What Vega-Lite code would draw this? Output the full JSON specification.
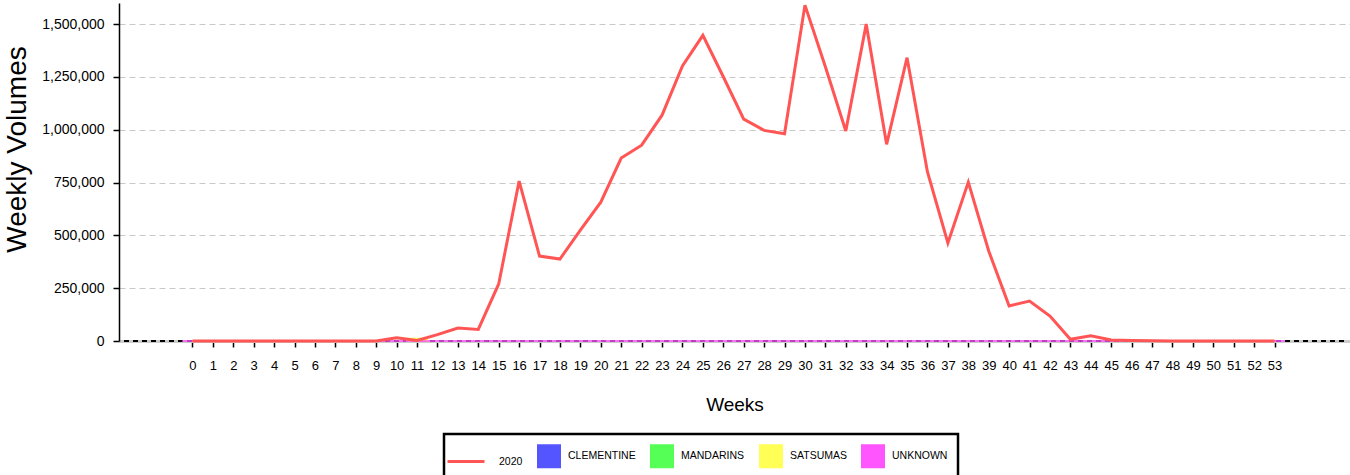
{
  "$schema": "https://vega.github.io/schema/vega-lite/v6.json",
  "width": 1231,
  "height": 338,
  "autosize": {"type": "none"},
  "padding": {"left": 119, "top": 3, "right": 0, "bottom": 134},
  "background": "white",
  "config": {
    "font": "Liberation Sans",
    "view": {"stroke": null},
    "axis": {"labelFont": "Liberation Sans", "titleFont": "Liberation Sans", "labelColor": "#000", "titleColor": "#000", "titleFontWeight": "normal"}
  },
  "datasets": {
    "main": [
      {"week": 0, "value": 0}, {"week": 1, "value": 0}, {"week": 2, "value": 0}, {"week": 3, "value": 0},
      {"week": 4, "value": 0}, {"week": 5, "value": 0}, {"week": 6, "value": 0}, {"week": 7, "value": 0},
      {"week": 8, "value": 0}, {"week": 9, "value": 0}, {"week": 10, "value": 15000}, {"week": 11, "value": 3000},
      {"week": 12, "value": 30000}, {"week": 13, "value": 61000}, {"week": 14, "value": 55000}, {"week": 15, "value": 270000},
      {"week": 16, "value": 757000}, {"week": 17, "value": 402000}, {"week": 18, "value": 388000}, {"week": 19, "value": 525000},
      {"week": 20, "value": 657000}, {"week": 21, "value": 866000}, {"week": 22, "value": 927000}, {"week": 23, "value": 1069000},
      {"week": 24, "value": 1302000}, {"week": 25, "value": 1447000}, {"week": 26, "value": 1251000}, {"week": 27, "value": 1050000},
      {"week": 28, "value": 997000}, {"week": 29, "value": 981000}, {"week": 30, "value": 1590000}, {"week": 31, "value": 1298000},
      {"week": 32, "value": 994000}, {"week": 33, "value": 1500000}, {"week": 34, "value": 931000}, {"week": 35, "value": 1341000},
      {"week": 36, "value": 800000}, {"week": 37, "value": 464000}, {"week": 38, "value": 752000}, {"week": 39, "value": 426000},
      {"week": 40, "value": 166000}, {"week": 41, "value": 189000}, {"week": 42, "value": 118000}, {"week": 43, "value": 8000},
      {"week": 44, "value": 25000}, {"week": 45, "value": 5000}, {"week": 46, "value": 2000}, {"week": 47, "value": 1000},
      {"week": 48, "value": 500}, {"week": 49, "value": 0}, {"week": 50, "value": 0}, {"week": 51, "value": 0},
      {"week": 52, "value": 0}, {"week": 53, "value": 0}
    ],
    "varieties": [
      {"week": 11, "series": "SATSUMAS", "value": 12000},
      {"week": 0, "series": "UNKNOWN", "value": 0}, {"week": 1, "series": "UNKNOWN", "value": 0}, {"week": 2, "series": "UNKNOWN", "value": 0},
      {"week": 3, "series": "UNKNOWN", "value": 0}, {"week": 4, "series": "UNKNOWN", "value": 0}, {"week": 5, "series": "UNKNOWN", "value": 0},
      {"week": 6, "series": "UNKNOWN", "value": 0}, {"week": 7, "series": "UNKNOWN", "value": 0}, {"week": 8, "series": "UNKNOWN", "value": 0},
      {"week": 9, "series": "UNKNOWN", "value": 0}, {"week": 10, "series": "UNKNOWN", "value": 0}, {"week": 11, "series": "UNKNOWN", "value": 0},
      {"week": 12, "series": "UNKNOWN", "value": 0}, {"week": 13, "series": "UNKNOWN", "value": 0}, {"week": 14, "series": "UNKNOWN", "value": 0},
      {"week": 15, "series": "UNKNOWN", "value": 0}, {"week": 16, "series": "UNKNOWN", "value": 0}, {"week": 17, "series": "UNKNOWN", "value": 0},
      {"week": 18, "series": "UNKNOWN", "value": 0}, {"week": 19, "series": "UNKNOWN", "value": 0}, {"week": 20, "series": "UNKNOWN", "value": 0},
      {"week": 21, "series": "UNKNOWN", "value": 0}, {"week": 22, "series": "UNKNOWN", "value": 0}, {"week": 23, "series": "UNKNOWN", "value": 0},
      {"week": 24, "series": "UNKNOWN", "value": 0}, {"week": 25, "series": "UNKNOWN", "value": 0}, {"week": 26, "series": "UNKNOWN", "value": 0},
      {"week": 27, "series": "UNKNOWN", "value": 0}, {"week": 28, "series": "UNKNOWN", "value": 0}, {"week": 29, "series": "UNKNOWN", "value": 0},
      {"week": 30, "series": "UNKNOWN", "value": 0}, {"week": 31, "series": "UNKNOWN", "value": 0}, {"week": 32, "series": "UNKNOWN", "value": 0},
      {"week": 33, "series": "UNKNOWN", "value": 0}, {"week": 34, "series": "UNKNOWN", "value": 0}, {"week": 35, "series": "UNKNOWN", "value": 0},
      {"week": 36, "series": "UNKNOWN", "value": 0}, {"week": 37, "series": "UNKNOWN", "value": 0}, {"week": 38, "series": "UNKNOWN", "value": 0},
      {"week": 39, "series": "UNKNOWN", "value": 0}, {"week": 40, "series": "UNKNOWN", "value": 0}, {"week": 41, "series": "UNKNOWN", "value": 0},
      {"week": 42, "series": "UNKNOWN", "value": 0}, {"week": 43, "series": "UNKNOWN", "value": 0}, {"week": 44, "series": "UNKNOWN", "value": 0},
      {"week": 45, "series": "UNKNOWN", "value": 0}, {"week": 46, "series": "UNKNOWN", "value": 0}, {"week": 47, "series": "UNKNOWN", "value": 0},
      {"week": 48, "series": "UNKNOWN", "value": 0}, {"week": 49, "series": "UNKNOWN", "value": 0}, {"week": 50, "series": "UNKNOWN", "value": 0},
      {"week": 51, "series": "UNKNOWN", "value": 0}, {"week": 52, "series": "UNKNOWN", "value": 0}, {"week": 53, "series": "UNKNOWN", "value": 0}
    ]
  },
  "encoding": {
    "x": {
      "field": "week", "type": "quantitative",
      "scale": {"domain": [-3.352, 56.45], "nice": false, "zero": false},
      "axis": {
        "values": [0,1,2,3,4,5,6,7,8,9,10,11,12,13,14,15,16,17,18,19,20,21,22,23,24,25,26,27,28,29,30,31,32,33,34,35,36,37,38,39,40,41,42,43,44,45,46,47,48,49,50,51,52,53],
        "tickCount": 60,
        "format": "d", "title": "Weeks", "titleFontSize": 19, "titlePadding": 23,
        "labelFontSize": 13, "labelPadding": 12, "labelFlush": false, "labelOverlap": false,
        "tickColor": "#000", "tickSize": 6, "tickWidth": 1.5,
        "domainColor": "#cccccc", "domainWidth": 3, "grid": false
      }
    },
    "y": {
      "field": "value", "type": "quantitative",
      "scale": {"domain": [0, 1600000], "nice": false},
      "axis": {
        "values": [0, 250000, 500000, 750000, 1000000, 1250000, 1500000],
        "format": ",d", "title": "Weekly Volumes", "titleFontSize": 28, "titlePadding": 10, "titleY": 146,
        "labelFontSize": 14, "labelPadding": 9,
        "tickColor": "#000", "tickSize": 6, "tickWidth": 1.5,
        "domainColor": "#000", "domainWidth": 1.5,
        "grid": true, "gridColor": "#c8c8c8", "gridDash": [6, 4], "gridWidth": 1
      }
    }
  },
  "layer": [
    {
      "data": {"name": "main"},
      "mark": {"type": "rule", "color": "#000", "strokeWidth": 1.5, "strokeDash": [5, 4]},
      "encoding": {
        "x": {"datum": -3.352, "type": "quantitative"},
        "x2": {"datum": 56.45},
        "y": {"datum": 0, "type": "quantitative"}
      }
    },
    {
      "data": {"name": "varieties"},
      "mark": {"type": "bar", "size": 20.5, "strokeWidth": 1.5},
      "encoding": {
        "y": {"field": "value", "type": "quantitative", "stack": null},
        "color": {"field": "series", "type": "nominal"},
        "stroke": {"field": "series", "type": "nominal", "legend": null,
          "scale": {"domain": ["CLEMENTINE", "MANDARINS", "SATSUMAS", "UNKNOWN"], "range": ["#5555ff", "#55ff55", "#ffff55", "#ff55ff"]}}
      }
    },
    {
      "data": {"name": "main"},
      "transform": [{"calculate": "'2020'", "as": "series"}],
      "mark": {"type": "line", "strokeWidth": 3, "interpolate": "linear"},
      "encoding": {
        "color": {
          "field": "series", "type": "nominal",
          "scale": {"domain": ["2020", "CLEMENTINE", "MANDARINS", "SATSUMAS", "UNKNOWN"], "range": ["#ff5555", "#5555ff", "#55ff55", "#ffff55", "#ff55ff"]},
          "legend": {
            "title": null, "orient": "none", "direction": "horizontal",
            "legendX": 325, "legendY": 431,
            "strokeColor": "#000", "fillColor": "#fff", "padding": 10,
            "symbolSize": 441, "labelOffset": 7, "columnPadding": 9,
            "labelFont": "Liberation Sans", "labelFontSize": 10.5, "labelColor": "#000", "labelLimit": 200,
            "encode": {
              "legend": {"update": {"strokeWidth": {"value": 2.5}}},
              "labels": {"update": {"dx": {"signal": "datum.value === '2020' ? 14 : 0"}}},
              "symbols": {
                "update": {
                  "shape": {"signal": "datum.value === '2020' ? 'stroke' : 'square'"},
                  "size": {"signal": "datum.value === '2020' ? 1369 : 441"},
                  "fill": {"signal": "datum.value === '2020' ? 'transparent' : scale('color', datum.value)"},
                  "stroke": {"signal": "datum.value === '2020' ? scale('color', datum.value) : 'transparent'"},
                  "strokeWidth": {"value": 3},
                  "opacity": {"value": 1},
                  "fillOpacity": {"value": 1}
                }
              }
            }
          }
        }
      }
    }
  ]
}
